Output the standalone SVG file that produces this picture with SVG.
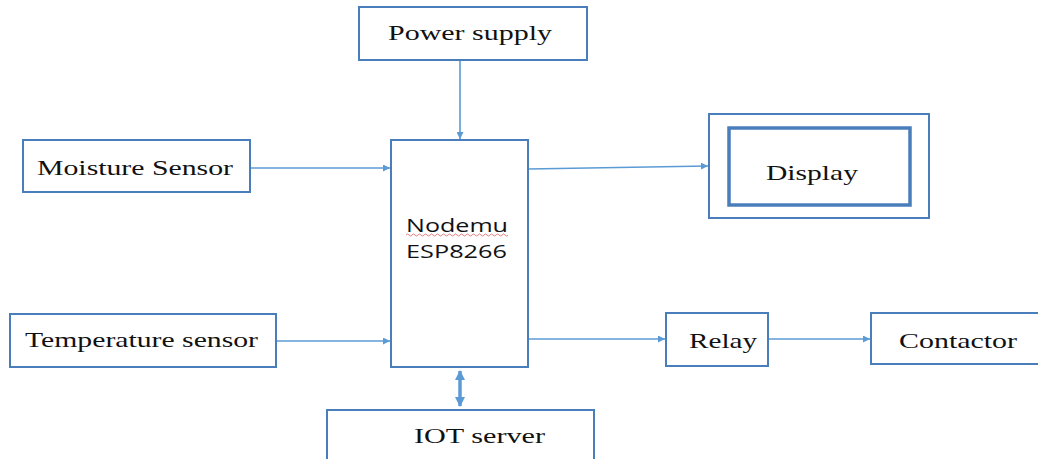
<svg xmlns="http://www.w3.org/2000/svg" width="1038" height="459" viewBox="0 0 1038 459">
<style>
.box{fill:#fff;stroke:#4a7ebb;stroke-width:2}
.inner{fill:none;stroke:#4a7ebb;stroke-width:3.5}
.t{font-family:"Liberation Serif","Times New Roman",serif;font-size:21px;fill:#111}
.s{font-family:"Open Sans","Liberation Sans",sans-serif;font-size:18px;fill:#111}
.c{stroke:#5b9bd5;stroke-width:1.6;fill:none}
.cb{stroke:#5b9bd5;stroke-width:3.5;fill:none}
</style>
<defs>
<marker id="ah" viewBox="0 0 10 10" refX="10" refY="5" markerWidth="7" markerHeight="7" markerUnits="userSpaceOnUse" orient="auto">
<path d="M0,0 L10,5 L0,10 z" fill="#5b9bd5"/>
</marker>
<marker id="ahb" viewBox="0 0 10 10" refX="9" refY="5" markerWidth="3" markerHeight="3" orient="auto-start-reverse">
<path d="M0,0 L10,5 L0,10 z" fill="#5b9bd5"/>
</marker>
</defs>
<rect width="1038" height="459" fill="#fff"/>
<g id="connectors">
<line class="c" x1="460" y1="60" x2="460" y2="139" marker-end="url(#ah)"/>
<line class="c" x1="250" y1="168" x2="390" y2="168" marker-end="url(#ah)"/>
<line class="c" x1="276" y1="341" x2="390" y2="341" marker-end="url(#ah)"/>
<line class="c" x1="528" y1="169" x2="708" y2="166" marker-end="url(#ah)"/>
<line class="c" x1="528" y1="339" x2="665" y2="339" marker-end="url(#ah)"/>
<line class="c" x1="768" y1="339" x2="870" y2="339" marker-end="url(#ah)"/>
<line class="cb" x1="460" y1="371" x2="460" y2="406" marker-start="url(#ahb)" marker-end="url(#ahb)"/>
</g>
<g id="power-supply">
<rect class="box" x="359" y="7" width="228" height="53"/>
<text class="t" x="388" y="40" textLength="164" lengthAdjust="spacingAndGlyphs">Power supply</text>
</g>
<g id="nodemcu">
<rect class="box" x="391" y="140" width="137" height="227"/>
<text class="s" x="406" y="232" textLength="102" lengthAdjust="spacingAndGlyphs">Nodemu</text>
<path d="M406,235 q1.5,-2 3,0 t3,0 t3,0 t3,0 t3,0 t3,0 t3,0 t3,0 t3,0 t3,0 t3,0 t3,0 t3,0 t3,0 t3,0 t3,0 t3,0 t3,0 t3,0 t3,0 t3,0 t3,0 t3,0 t3,0 t3,0 t3,0 t3,0 t3,0 t3,0 t3,0 t3,0 t3,0 t3,0 t3,0" fill="none" stroke="#e06060" stroke-width="0.8"/>
<text class="s" x="406" y="258" textLength="101" lengthAdjust="spacingAndGlyphs">ESP8266</text>
</g>
<g id="moisture-sensor">
<rect class="box" x="23" y="140" width="227" height="52"/>
<text class="t" x="37" y="175" textLength="196" lengthAdjust="spacingAndGlyphs">Moisture Sensor</text>
</g>
<g id="temperature-sensor">
<rect class="box" x="10" y="314" width="266" height="53"/>
<text class="t" x="25" y="347" textLength="233" lengthAdjust="spacingAndGlyphs">Temperature sensor</text>
</g>
<g id="display">
<rect class="box" x="709" y="114" width="220" height="104"/>
<rect class="inner" x="729" y="128" width="181" height="77"/>
<text class="t" x="766" y="180" textLength="92" lengthAdjust="spacingAndGlyphs">Display</text>
</g>
<g id="relay">
<rect class="box" x="666" y="313" width="102" height="53"/>
<text class="t" x="689" y="348" textLength="68" lengthAdjust="spacingAndGlyphs">Relay</text>
</g>
<g id="contactor">
<rect class="box" x="871" y="313" width="168" height="51"/>
<text class="t" x="899" y="348" textLength="118" lengthAdjust="spacingAndGlyphs">Contactor</text>
</g>
<g id="iot-server">
<rect class="box" x="327" y="410" width="267" height="60"/>
<text class="t" x="414" y="443" textLength="131" lengthAdjust="spacingAndGlyphs">IOT server</text>
</g>
</svg>
